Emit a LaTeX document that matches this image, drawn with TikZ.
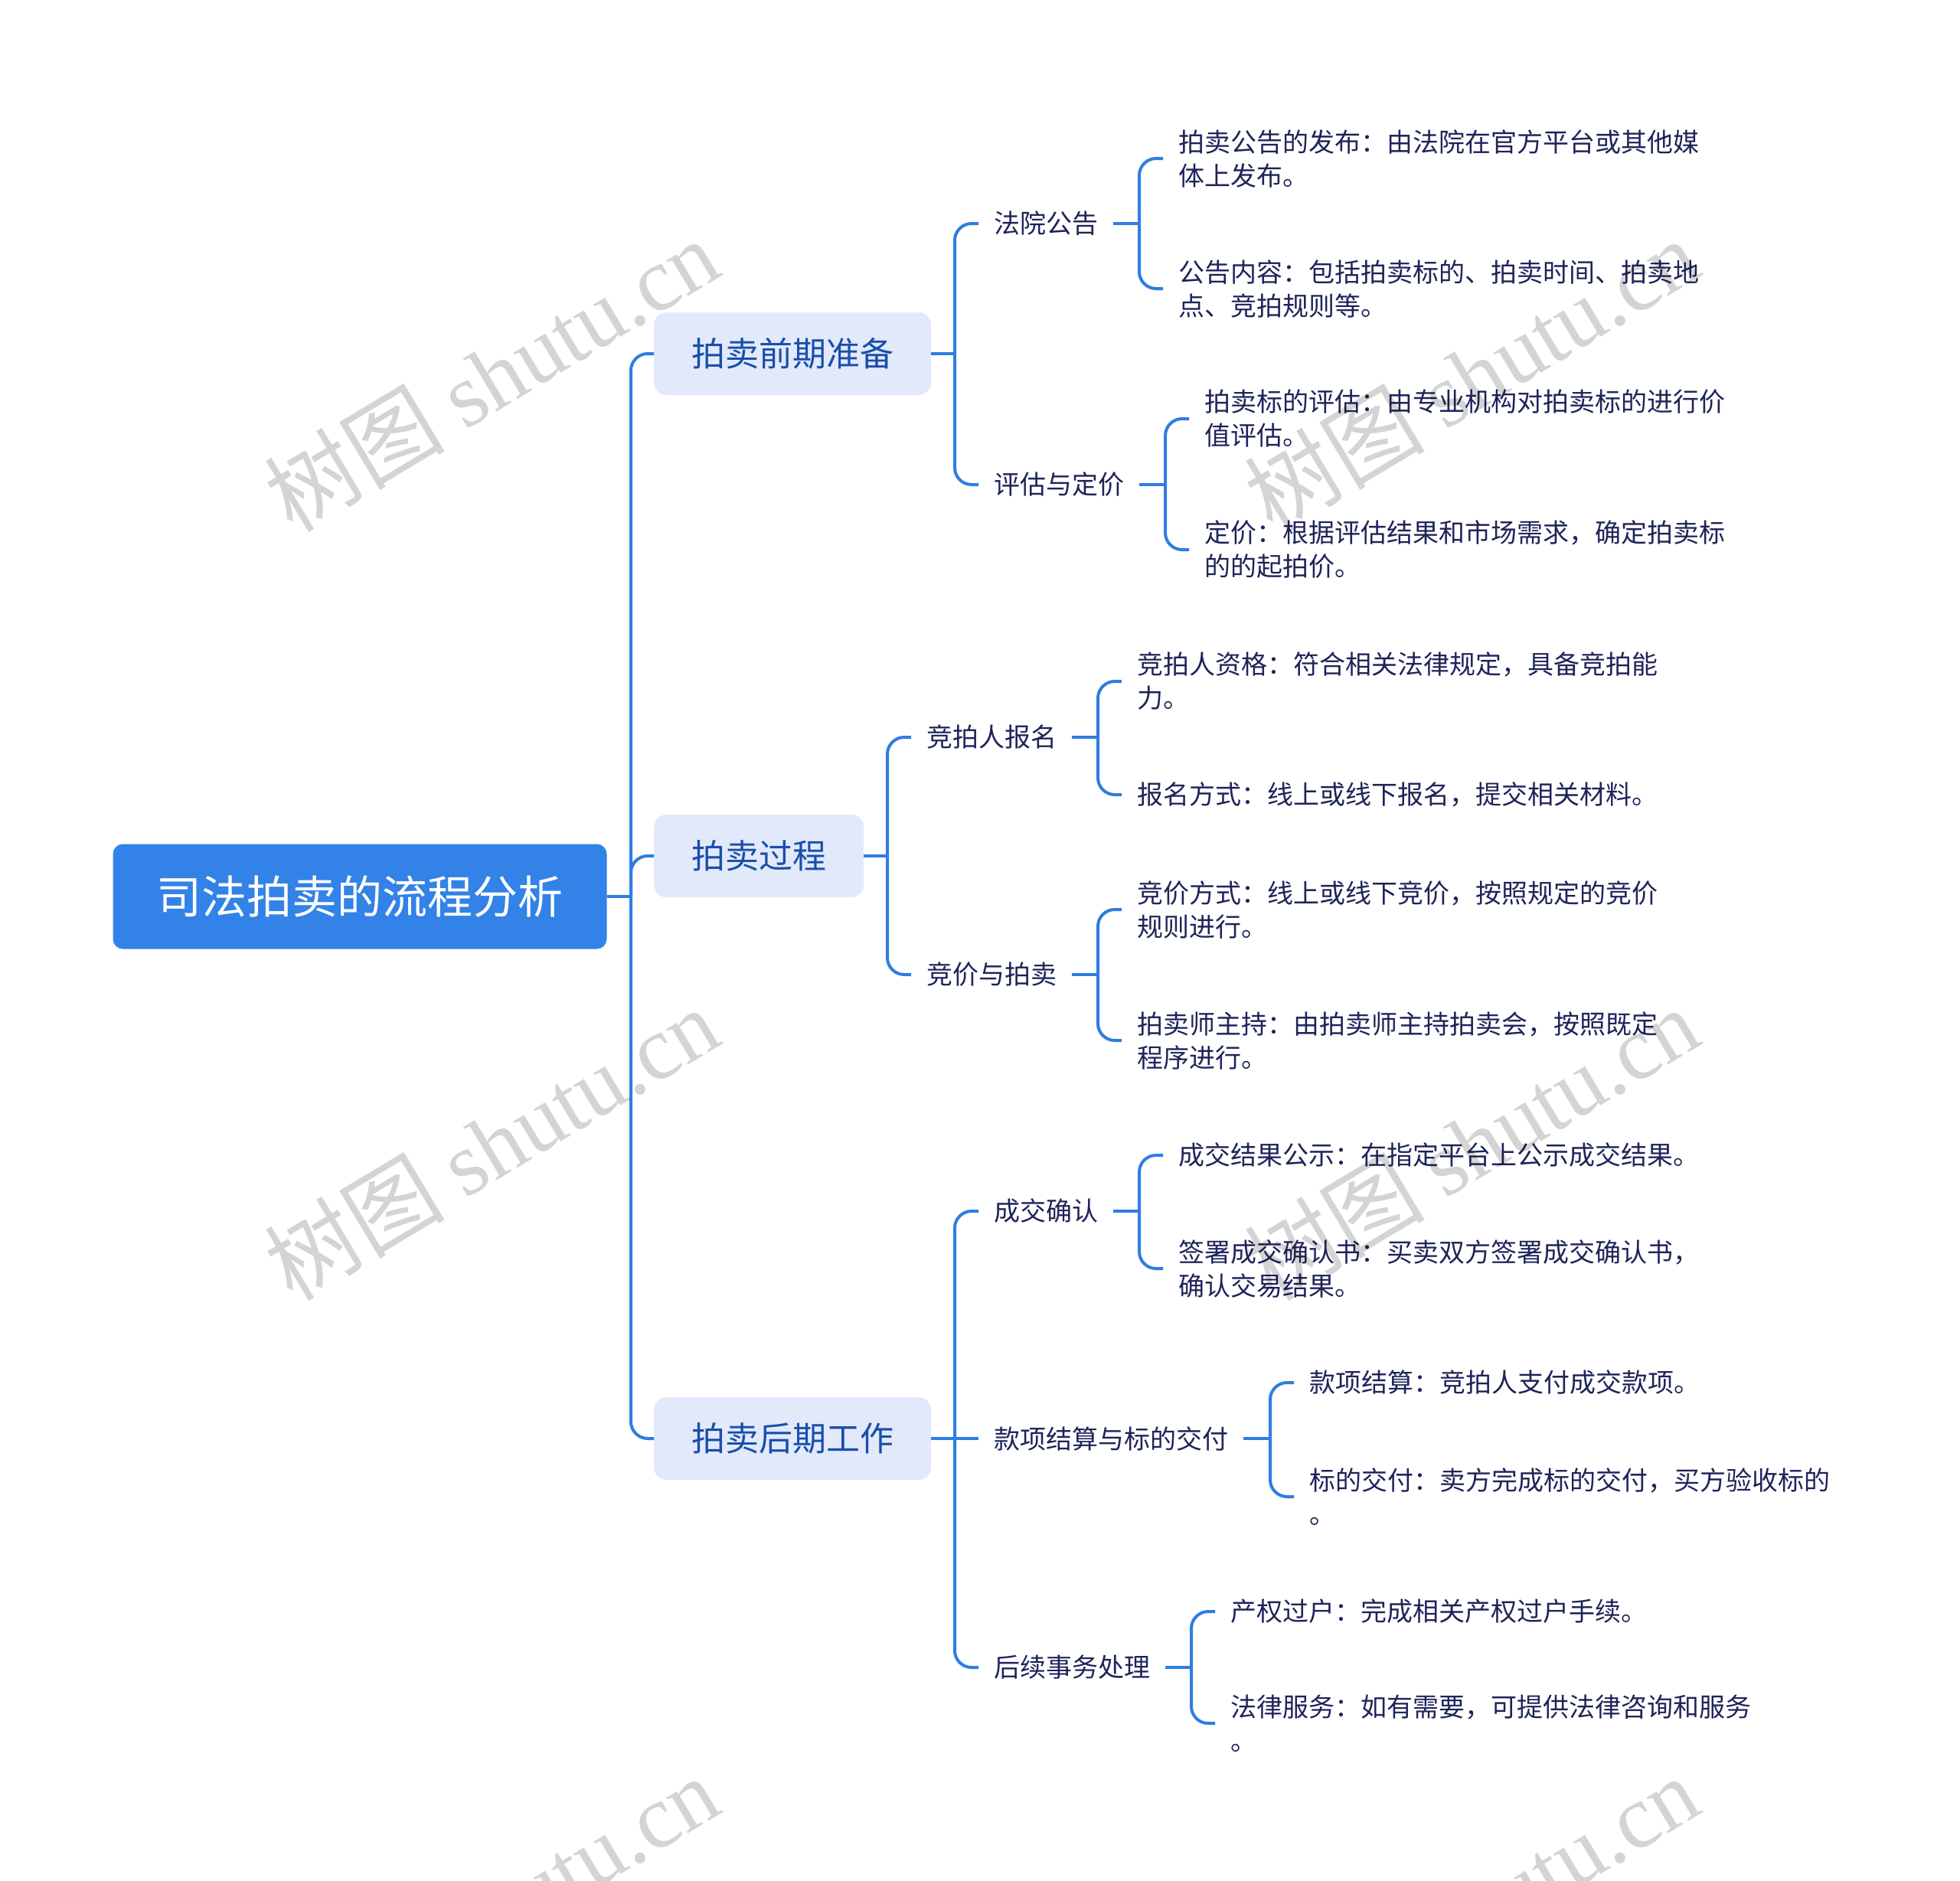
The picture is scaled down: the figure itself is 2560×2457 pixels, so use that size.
\documentclass[tikz,border=0pt]{standalone}
\usepackage{fontspec}
\setmainfont{Noto Sans CJK SC}
\newfontfamily\wmserif{Liberation Serif}
\definecolor{rootblue}{HTML}{3282E8}
\definecolor{linkblue}{HTML}{2F7DE1}
\definecolor{boxfill}{HTML}{E1E9FB}
\definecolor{boxtext}{HTML}{194EAA}
\definecolor{leaftext}{HTML}{1E2459}
\begin{document}
\begin{tikzpicture}[x=1pt, y=-1pt,
  rootbox/.style={fill=rootblue, text=white, rounded corners=13pt, minimum width=645pt, minimum height=137pt, font=\fontsize{59}{70}\selectfont},
  stagebox/.style={fill=boxfill, text=boxtext, rounded corners=16pt, minimum height=108pt, inner xsep=49pt, anchor=west, font=\fontsize{44}{52}\selectfont},
  topicnode/.style={text=leaftext, inner xsep=20pt, inner ysep=0pt, anchor=west, font=\fontsize{34}{44}\selectfont},
  detailnode/.style={topicnode, align=left},
  linkline/.style={draw=linkblue, line width=4pt, rounded corners=22pt},
  wmtext/.style={anchor=base west, rotate=31, text=black, text opacity=.17, inner sep=0pt, font=\fontsize{118}{130}\selectfont}]
\useasboundingbox (0,0) rectangle (2560,2457);

\node[rootbox] (root) at (470,1171) {司法拍卖的流程分析};
\node[stagebox] (p1) at (854,462) {拍卖前期准备};
\node[stagebox] (p2) at (854,1118) {拍卖过程};
\node[stagebox] (p3) at (854,1879) {拍卖后期工作};

\node[topicnode] (c11) at (1278,292) {法院公告};
\node[topicnode] (c12) at (1278,633) {评估与定价};
\node[topicnode] (c21) at (1190,963) {竞拍人报名};
\node[topicnode] (c22) at (1190,1273) {竞价与拍卖};
\node[topicnode] (c31) at (1278,1582) {成交确认};
\node[topicnode] (c32) at (1278,1879) {款项结算与标的交付};
\node[topicnode] (c33) at (1278,2178) {后续事务处理};

\node[detailnode] (l111) at (1519,207) {拍卖公告的发布：由法院在官方平台或其他媒\\体上发布。};
\node[detailnode] (l112) at (1519,377) {公告内容：包括拍卖标的、拍卖时间、拍卖地\\点、竞拍规则等。};
\node[detailnode] (l121) at (1553,547) {拍卖标的评估：由专业机构对拍卖标的进行价\\值评估。};
\node[detailnode] (l122) at (1553,718) {定价：根据评估结果和市场需求，确定拍卖标\\的的起拍价。};
\node[detailnode] (l211) at (1465,890) {竞拍人资格：符合相关法律规定，具备竞拍能\\力。};
\node[detailnode] (l212) at (1465,1038) {报名方式：线上或线下报名，提交相关材料。};
\node[detailnode] (l221) at (1465,1188) {竞价方式：线上或线下竞价，按照规定的竞价\\规则进行。};
\node[detailnode] (l222) at (1465,1359) {拍卖师主持：由拍卖师主持拍卖会，按照既定\\程序进行。};
\node[detailnode] (l311) at (1519,1509) {成交结果公示：在指定平台上公示成交结果。};
\node[detailnode] (l312) at (1519,1657) {签署成交确认书：买卖双方签署成交确认书，\\确认交易结果。};
\node[detailnode] (l321) at (1690,1806) {款项结算：竞拍人支付成交款项。};
\node[detailnode] (l322) at (1690,1955) {标的交付：卖方完成标的交付，买方验收标的\\。};
\node[detailnode] (l331) at (1587,2105) {产权过户：完成相关产权过户手续。};
\node[detailnode] (l332) at (1587,2251) {法律服务：如有需要，可提供法律咨询和服务\\。};

\coordinate (t0) at (824,1171);
\draw[linkline] (root.east) -- (t0);
\draw[linkline] (t0) |- (p1.west);
\draw[linkline] (t0) |- (p2.west);
\draw[linkline] (t0) |- (p3.west);

\coordinate (s1) at (1247,462);
\coordinate (s2) at (1159,1118);
\coordinate (s3) at (1247,1879);
\draw[linkline] (p1.east) -- (s1);
\draw[linkline] (s1) |- (c11.west);
\draw[linkline] (s1) |- (c12.west);
\draw[linkline] (p2.east) -- (s2);
\draw[linkline] (s2) |- (c21.west);
\draw[linkline] (s2) |- (c22.west);
\draw[linkline] (p3.east) -- (s3);
\draw[linkline] (s3) |- (c31.west);
\draw[linkline] (s3) -- (c32.west);
\draw[linkline] (s3) |- (c33.west);

\coordinate (s11) at (1488,292);
\coordinate (s12) at (1522,633);
\coordinate (s21) at (1434,963);
\coordinate (s22) at (1434,1273);
\coordinate (s31) at (1488,1582);
\coordinate (s32) at (1659,1879);
\coordinate (s33) at (1556,2178);
\draw[linkline] (c11.east) -- (s11);
\draw[linkline] (s11) |- (l111.west);
\draw[linkline] (s11) |- (l112.west);
\draw[linkline] (c12.east) -- (s12);
\draw[linkline] (s12) |- (l121.west);
\draw[linkline] (s12) |- (l122.west);
\draw[linkline] (c21.east) -- (s21);
\draw[linkline] (s21) |- (l211.west);
\draw[linkline] (s21) |- (l212.west);
\draw[linkline] (c22.east) -- (s22);
\draw[linkline] (s22) |- (l221.west);
\draw[linkline] (s22) |- (l222.west);
\draw[linkline] (c31.east) -- (s31);
\draw[linkline] (s31) |- (l311.west);
\draw[linkline] (s31) |- (l312.west);
\draw[linkline] (c32.east) -- (s32);
\draw[linkline] (s32) |- (l321.west);
\draw[linkline] (s32) |- (l322.west);
\draw[linkline] (c33.east) -- (s33);
\draw[linkline] (s33) |- (l331.west);
\draw[linkline] (s33) |- (l332.west);

\begin{scope}
\clip (0,0) rectangle (2560,2457);
\foreach \wx in {382,1662}
  \foreach \wy in {698,1702,2706}
    \node[wmtext] at (\wx,\wy) {树图 {\wmserif shutu.cn}};
\end{scope}
\end{tikzpicture}
\end{document}
